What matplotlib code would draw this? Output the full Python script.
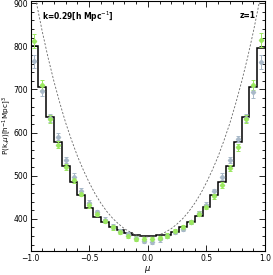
import numpy as np
import matplotlib
matplotlib.use("Agg")
import matplotlib.pyplot as plt
from matplotlib.ticker import MultipleLocator

# ---- data ----
# 30 mu-bins of width 1/15 between -1 and 1
step_vals = [800, 705, 636, 577, 523, 485, 455, 426, 405, 392, 380, 373, 367, 363, 361,
             361, 362, 363, 369, 380, 393, 407, 428, 454, 486, 522, 577, 636, 705, 797]
green_vals = [812, 710, 632, 572, 520, 490, 458, 432, 412, 395, 380, 369, 361, 354, 352,
              352, 355, 361, 372, 380, 393, 412, 428, 452, 479, 517, 566, 632, 710, 814]
grey_vals = [765, 696, 634, 590, 536, 498, 465, 437, 416, 398, 382, 372, 364, 356, 348,
             347, 352, 360, 370, 377, 393, 414, 433, 464, 498, 536, 585, 634, 693, 764]
err_half = [16, 12, 9, 8, 7, 7, 6, 6, 5, 5, 5, 5, 5, 5, 5]
errs = err_half + err_half[::-1]

# dashed reference curve (read at a set of mu values)
mu_curve = [-0.96, -0.95, -0.9, -0.85, -0.8, -0.75, -0.7, -0.65, -0.6, -0.55, -0.5, -0.45,
            -0.4, -0.35, -0.3, -0.25, -0.2, -0.15, -0.1, -0.05, 0.0,
            0.05, 0.1, 0.15, 0.2, 0.25, 0.3, 0.35, 0.4, 0.45, 0.5, 0.55,
            0.6, 0.65, 0.7, 0.75, 0.8, 0.85, 0.9, 0.95, 0.96]
p_curve = [915, 901, 834, 773, 718, 668, 622, 582, 545, 513, 484, 458,
           436, 417, 401, 388, 377, 369, 363, 359, 358,
           359, 363, 369, 377, 388, 401, 417, 436, 458, 484, 513,
           545, 582, 622, 668, 718, 773, 834, 901, 915]

edges = np.linspace(-1, 1, len(step_vals) + 1)
centers = 0.5 * (edges[:-1] + edges[1:])

fig = plt.figure(figsize=(2.73, 2.75), dpi=100)
ax = fig.add_axes([0.112, 0.087, 0.859, 0.909])

ax.plot(mu_curve, p_curve, ls=(0, (2.5, 2)), color="0.4", lw=0.6)
ax.stairs(step_vals, edges, color="black", lw=1.1, baseline=None)
ax.errorbar(centers, grey_vals, yerr=errs, fmt="D", ms=2.2, color="#a9b9c9",
            ecolor="#a9b9c9", elinewidth=0.7, capsize=1.5, capthick=0.7)
ax.errorbar(centers, green_vals, yerr=errs, fmt="D", ms=2.2, color="#9be860",
            ecolor="#9be860", elinewidth=0.7, capsize=1.5, capthick=0.7)

ax.set_xlim(-1, 1)
ax.set_ylim(325, 905)
ax.xaxis.set_major_locator(MultipleLocator(0.5))
ax.xaxis.set_minor_locator(MultipleLocator(0.1))
ax.yaxis.set_major_locator(MultipleLocator(100))
ax.yaxis.set_minor_locator(MultipleLocator(20))
ax.tick_params(which="both", direction="in", top=True, right=True, labelsize=5.5, width=0.6)
ax.tick_params(which="major", length=4)
ax.tick_params(which="minor", length=2)
ax.tick_params(axis="x", pad=2)
ax.tick_params(axis="y", pad=2)
ax.xaxis.set_major_formatter(plt.FuncFormatter(lambda v, p: f"{v:.1f}".replace("-", "\u2212")))
for s in ax.spines.values():
    s.set_linewidth(0.8)

fig.text(0.542, 0.0, r"$\mu$", fontsize=6, ha="center", va="bottom")
fig.text(0.024, 0.545, r"P(k,$\mu$)[h$^{-1}$Mpc]$^3$", fontsize=5.2, rotation=90,
         ha="center", va="center")
ax.text(0.05, 0.965, r"k=0.29[h Mpc$^{-1}$]", transform=ax.transAxes, fontsize=5.5,
        ha="left", va="top", fontweight="bold")
ax.text(0.96, 0.96, "z=1", transform=ax.transAxes, fontsize=5.5,
        ha="right", va="top", fontweight="bold")

fig.savefig("out.png", dpi=100)
